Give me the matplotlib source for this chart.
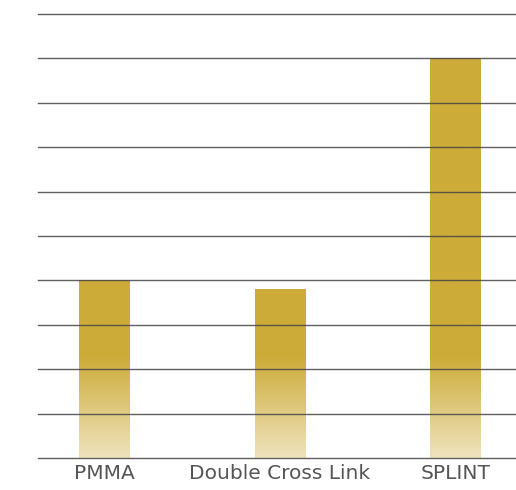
import matplotlib.pyplot as plt
import numpy as np
from matplotlib.colors import to_rgb

categories = ["PMMA", "Double Cross Link", "SPLINT"]
values = [4.0, 3.8, 9.0]

solid = to_rgb("#cdab38")
light = to_rgb("#efe3bd")
fade_top = 2.3  # height where the bar reaches its full colour

fig = plt.figure(figsize=(5.16, 4.9), dpi=100)
ax = fig.add_axes([38 / 516, 32 / 490, 478 / 516, 444 / 490])

x = np.arange(len(categories))
bars = ax.bar(x, values, width=0.29, color=solid, zorder=1)

# vertical fade near the base of each bar
for b, v in zip(bars, values):
    ys = np.linspace(v, 0, 300)
    t = np.clip(ys / fade_top, 0, 1)[:, None]
    rgb = np.array(light) * (1 - t) + np.array(solid) * t
    grad = rgb[:, None, :]
    x0 = b.get_x()
    im = ax.imshow(grad, extent=[x0, x0 + b.get_width(), 0, v],
                   aspect="auto", zorder=1.5, interpolation="bilinear")
    im.set_clip_path(b)

ax.set_xlim(-0.379, 2.345)
ax.set_ylim(0, 10)
ax.set_yticks(np.arange(0, 11, 1))
ax.set_yticklabels([])
ax.yaxis.grid(True, color="#444444", linewidth=1.0, alpha=0.85)
for gl in ax.get_ygridlines():
    gl.set_clip_on(False)
ax.set_axisbelow(False)

ax.set_xticks(x)
ax.set_xticklabels(categories, fontsize=14.5, color="#555555")
ax.tick_params(axis="both", length=0)
ax.tick_params(axis="x", pad=4)
for s in ax.spines.values():
    s.set_visible(False)

fig.savefig("out.png", dpi=100)
